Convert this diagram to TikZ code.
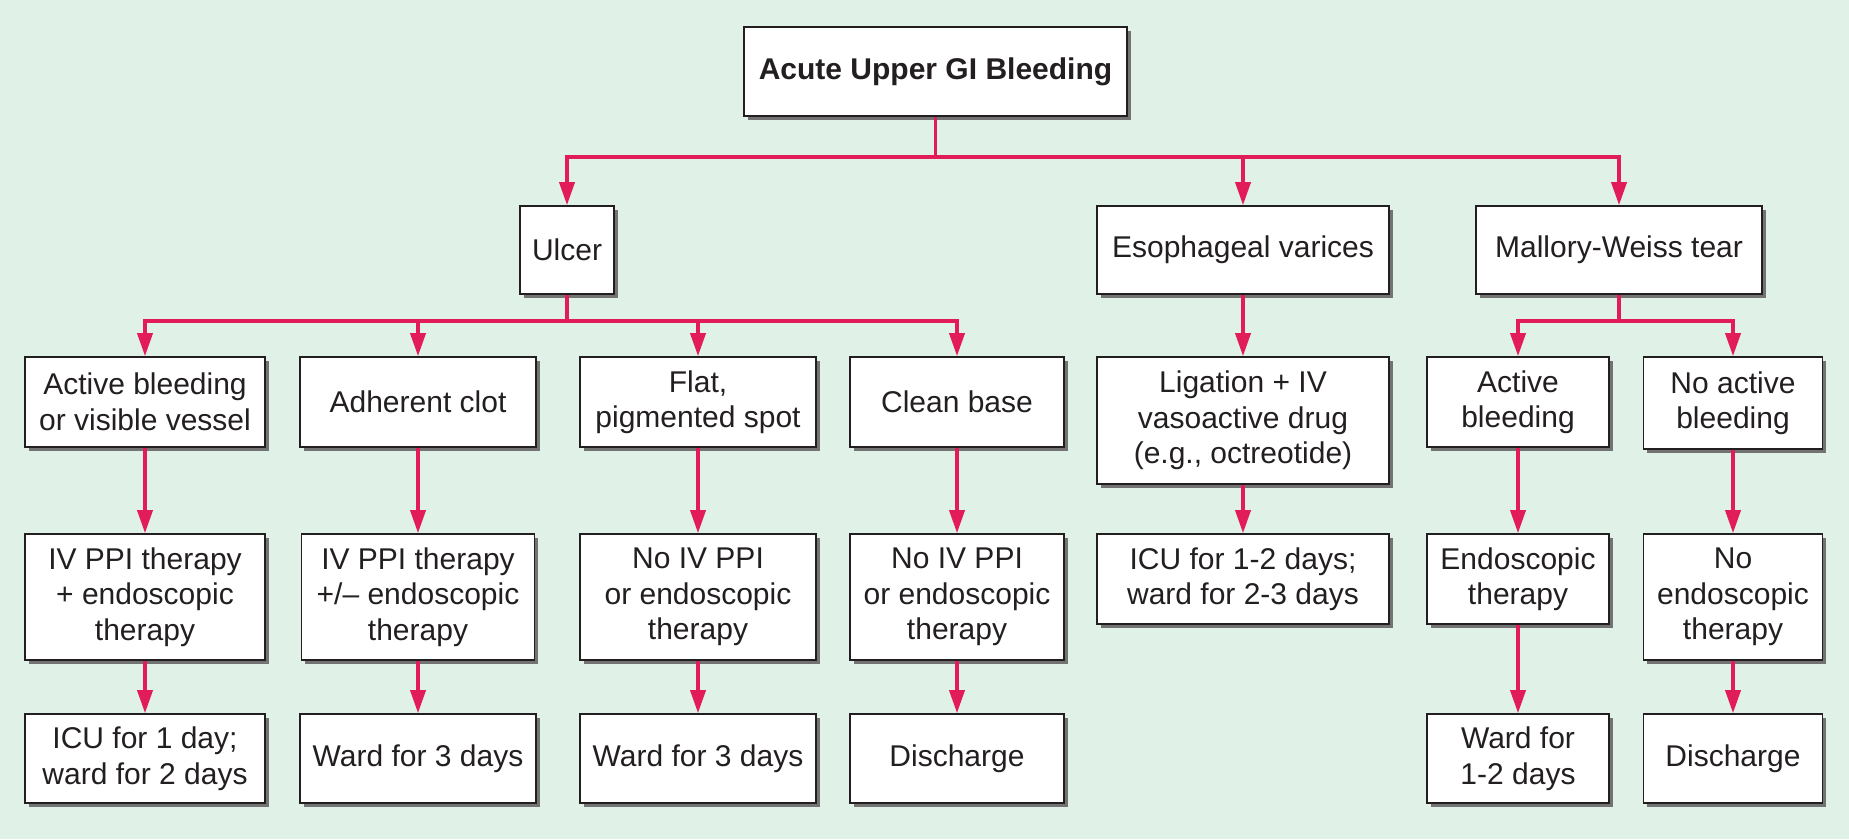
\documentclass[tikz,border=0pt]{standalone}
\usepackage{fontspec}
\setmainfont{Liberation Sans}
\usetikzlibrary{arrows.meta,shadows}
\definecolor{bgc}{RGB}{224,241,231}
\definecolor{linkc}{RGB}{226,28,88}
\definecolor{txt}{RGB}{35,31,32}
\begin{document}
\begin{tikzpicture}[x=1pt,y=-1pt,
  box/.style={draw=txt, line width=1.6pt, fill=white, text=txt, align=center, inner sep=0pt,
    font=\fontsize{30}{35.5}\selectfont,
    drop shadow={shadow xshift=3.5pt, shadow yshift=-3.5pt, fill=black!55, opacity=1}},
  link/.style={draw=linkc, line width=3.6pt},
  arr/.style={link, -{Triangle[length=23pt,width=15pt]}}]
\fill[bgc] (0,0) rectangle (1849,839);
\useasboundingbox (0,0) rectangle (1849,839);

% top
\node[box, minimum width=383pt, minimum height=89pt, font=\fontsize{30}{35.5}\selectfont\bfseries] (top) at (935.5,71.5) {Acute Upper GI Bleeding};

% row 1
\node[box, minimum width=94pt, minimum height=88pt] (ulcer) at (567,250) {Ulcer};
\node[box, minimum width=292pt, minimum height=88pt] (esoph) at (1243,250) {Esophageal varices};
\node[box, minimum width=286pt, minimum height=88pt] (mw) at (1619,250) {Mallory-Weiss tear};

% row 2
\node[box, minimum width=240pt, minimum height=90pt] (act) at (145,402) {Active bleeding\\or visible vessel};
\node[box, minimum width=236pt, minimum height=90pt] (adh) at (418,402) {Adherent clot};
\node[box, minimum width=236pt, minimum height=90pt] (flat) at (698,402) {Flat,\\pigmented spot};
\node[box, minimum width=214pt, minimum height=90pt] (clean) at (957,402) {Clean base};
\node[box, minimum width=292pt, minimum height=127pt] (lig) at (1243,420.5) {Ligation + IV\\vasoactive drug\\(e.g., octreotide)};
\node[box, minimum width=182pt, minimum height=90pt] (mwa) at (1518,402) {Active\\bleeding};
\node[box, minimum width=179pt, minimum height=92pt] (mwn) at (1733,403) {No active\\bleeding};

% row 3
\node[box, minimum width=240pt, minimum height=126pt] (t1) at (145,597) {IV PPI therapy\\+ endoscopic\\therapy};
\node[box, minimum width=233pt, minimum height=126pt] (t2) at (418,597) {IV PPI therapy\\+/– endoscopic\\therapy};
\node[box, minimum width=236pt, minimum height=126pt] (t3) at (698,597) {No IV PPI\\or endoscopic\\therapy};
\node[box, minimum width=214pt, minimum height=126pt] (t4) at (957,597) {No IV PPI\\or endoscopic\\therapy};
\node[box, minimum width=292pt, minimum height=90pt] (t5) at (1243,579) {ICU for 1-2 days;\\ward for 2-3 days};
\node[box, minimum width=182pt, minimum height=90pt] (t6) at (1518,579) {Endoscopic\\therapy};
\node[box, minimum width=179pt, minimum height=126pt] (t7) at (1733,597) {No\\endoscopic\\therapy};

% row 4
\node[box, minimum width=240pt, minimum height=89pt] (d1) at (145,758.5) {ICU for 1 day;\\ward for 2 days};
\node[box, minimum width=236pt, minimum height=89pt] (d2) at (418,758.5) {Ward for 3 days};
\node[box, minimum width=236pt, minimum height=89pt] (d3) at (698,758.5) {Ward for 3 days};
\node[box, minimum width=214pt, minimum height=89pt] (d4) at (957,758.5) {Discharge};
\node[box, minimum width=182pt, minimum height=89pt] (d6) at (1518,758.5) {Ward for\\1-2 days};
\node[box, minimum width=179pt, minimum height=89pt] (d7) at (1733,758.5) {Discharge};

% buses
\coordinate (bus1) at (0,157);
\coordinate (bus2) at (0,321);

\draw[arr] (top.south) -- (top.south |- bus1) -| (ulcer.north);
\draw[arr] (top.south) -- (top.south |- bus1) -| (esoph.north);
\draw[arr] (top.south) -- (top.south |- bus1) -| (mw.north);

\draw[arr] (ulcer.south) -- (ulcer.south |- bus2) -| (act.north);
\draw[arr] (ulcer.south) -- (ulcer.south |- bus2) -| (adh.north);
\draw[arr] (ulcer.south) -- (ulcer.south |- bus2) -| (flat.north);
\draw[arr] (ulcer.south) -- (ulcer.south |- bus2) -| (clean.north);

\draw[arr] (mw.south) -- (mw.south |- bus2) -| (mwa.north);
\draw[arr] (mw.south) -- (mw.south |- bus2) -| (mwn.north);

\draw[arr] (esoph.south) -- (lig.north);

\draw[arr] (act.south) -- (t1.north);
\draw[arr] (adh.south) -- (t2.north);
\draw[arr] (flat.south) -- (t3.north);
\draw[arr] (clean.south) -- (t4.north);
\draw[arr] (lig.south) -- (t5.north);
\draw[arr] (mwa.south) -- (t6.north);
\draw[arr] (mwn.south) -- (t7.north);

\draw[arr] (t1.south) -- (d1.north);
\draw[arr] (t2.south) -- (d2.north);
\draw[arr] (t3.south) -- (d3.north);
\draw[arr] (t4.south) -- (d4.north);
\draw[arr] (t6.south) -- (d6.north);
\draw[arr] (t7.south) -- (d7.north);
\end{tikzpicture}
\end{document}
